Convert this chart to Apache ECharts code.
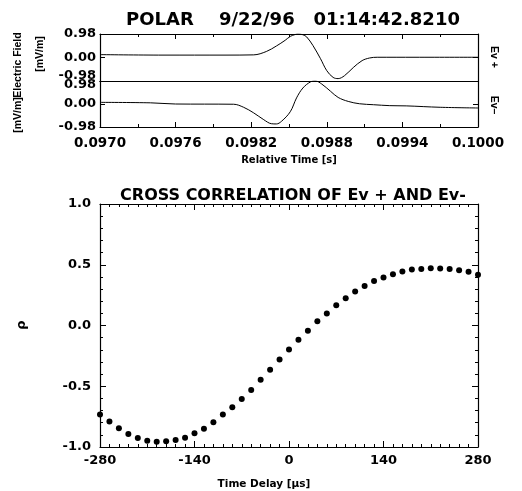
<!DOCTYPE html>
<html>
<head>
<meta charset="utf-8">
<script src="https://cdn.jsdelivr.net/npm/echarts@6/dist/echarts.min.js"></script>
<style>html,body{margin:0;padding:0;background:#fff;}#c{width:522px;height:491px;}</style>
</head>
<body>
<div id="c"></div>
<script>
// ---- data ----
var evPlusTime = [0.0970, 0.0975, 0.0980, 0.09822, 0.09832, 0.09840, 0.09847, 0.09851, 0.09855, 0.09857, 0.09861, 0.09864, 0.09869, 0.09875, 0.09880, 0.09885, 0.09889, 0.09894, 0.09901, 0.09908, 0.09914, 0.09920, 0.0995, 0.1000];
var evPlus     = [0.12, 0.10, 0.10, 0.11, 0.25, 0.48, 0.72, 0.88, 0.96, 0.98, 0.95, 0.86, 0.50, -0.05, -0.55, -0.83, -0.88, -0.76, -0.42, -0.13, -0.02, 0.01, 0.01, 0.01];
var evMinusTime = [0.0970, 0.0974, 0.0976, 0.09806, 0.09814, 0.09822, 0.09830, 0.09836, 0.09840, 0.09844, 0.09851, 0.09856, 0.09861, 0.09867, 0.09871, 0.09876, 0.09883, 0.09889, 0.09897, 0.09906, 0.09917, 0.09930, 0.09943, 0.09970, 0.1000];
var evMinus     = [0.07, 0.05, 0.00, -0.01, -0.14, -0.38, -0.67, -0.84, -0.85, -0.74, -0.33, 0.26, 0.68, 0.94, 0.98, 0.85, 0.54, 0.28, 0.11, 0.01, -0.03, -0.07, -0.08, -0.14, -0.17];
var timeDelay = [-280, -266, -252, -238, -224, -210, -196, -182, -168, -154, -140, -126, -112, -98, -84, -70, -56, -42, -28, -14, 0, 14, 28, 42, 56, 70, 84, 98, 112, 126, 140, 154, 168, 182, 196, 210, 224, 238, 252, 266, 280];
var rho = [-0.733, -0.79, -0.846, -0.893, -0.926, -0.948, -0.956, -0.953, -0.942, -0.923, -0.887, -0.849, -0.796, -0.733, -0.673, -0.604, -0.530, -0.447, -0.365, -0.279, -0.197, -0.117, -0.043, 0.034, 0.098, 0.166, 0.224, 0.279, 0.326, 0.367, 0.395, 0.422, 0.444, 0.461, 0.466, 0.472, 0.469, 0.464, 0.455, 0.442, 0.417];
var timeTicks = ['0.0970', '0.0976', '0.0982', '0.0988', '0.0994', '0.1000'];
var fieldTicks = ['-0.98', '0.00', '0.98'];
var delayTicks = ['-280', '-140', '0', '140', '280'];
var rhoTicks = ['-1.0', '-0.5', '0.0', '0.5', '1.0'];

function pairs(xs, ys) { return xs.map(function (x, i) { return [x, ys[i]]; }); }

var FONT = 'DejaVu Sans';
var BLACK = '#000';
var lineAx = { show: true, onZero: false, lineStyle: { color: BLACK, width: 1.2 } };

function tickIn(len) { return { show: true, inside: true, length: len, lineStyle: { color: BLACK, width: 1 } }; }
function minorIn(n, len) { return { show: true, splitNumber: n, length: len, lineStyle: { color: BLACK, width: 1 } }; }

function nearest(v, list) {
  var best = list[0], bd = Infinity;
  list.forEach(function (s) { var d = Math.abs(parseFloat(s) - v); if (d < bd) { bd = d; best = s; } });
  return best;
}

var chart = echarts.init(document.getElementById('c'), null, { renderer: 'canvas' });

var numLabel = { fontFamily: FONT, fontWeight: 'bold', fontSize: 13, color: BLACK };
var sideFont = 'Liberation Sans';

var option = {
  animation: false,
  backgroundColor: '#fff',
  title: [
    { text: 'POLAR    9/22/96   01:14:42.8210', left: 288, top: 6, textAlign: 'center',
      textStyle: { fontFamily: FONT, fontWeight: 'bold', fontSize: 18, color: BLACK } },
    { text: 'CROSS CORRELATION OF Ev + AND Ev-', left: 288, top: 183, textAlign: 'center',
      textStyle: { fontFamily: FONT, fontWeight: 'bold', fontSize: 16, color: BLACK } }
  ],
  grid: [
    { left: 100, top: 34, width: 378, height: 47 },
    { left: 100, top: 81, width: 378, height: 46 },
    { left: 100, top: 204, width: 378, height: 243 }
  ],
  xAxis: [
    { gridIndex: 0, type: 'value', min: 0.097, max: 0.1, interval: 0.0006, position: 'top',
      axisLine: lineAx, axisTick: tickIn(5), minorTick: minorIn(2, 3), axisLabel: { show: false }, splitLine: { show: false } },
    { gridIndex: 0, type: 'value', min: 0.097, max: 0.1, interval: 0.0006, position: 'bottom',
      axisLine: lineAx, axisTick: { show: false }, axisLabel: { show: false }, splitLine: { show: false } },
    { gridIndex: 1, type: 'value', min: 0.097, max: 0.1, interval: 0.0006, position: 'bottom',
      axisLine: lineAx, axisTick: tickIn(5), minorTick: minorIn(2, 3), splitLine: { show: false },
      axisLabel: Object.assign({ margin: 9, formatter: function (v) { return nearest(v, timeTicks); } }, numLabel, { fontSize: 13.5 }),
      name: 'Relative Time [s]', nameLocation: 'middle', nameGap: 28,
      nameTextStyle: { fontFamily: FONT, fontWeight: 'bold', fontSize: 10, color: BLACK } },
    { gridIndex: 1, type: 'value', min: 0.097, max: 0.1, position: 'top',
      axisLine: lineAx, axisTick: { show: false }, axisLabel: { show: false }, splitLine: { show: false } },
    { gridIndex: 2, type: 'value', min: -280, max: 280, interval: 140, position: 'bottom',
      axisLine: lineAx, axisTick: tickIn(6), minorTick: minorIn(10, 3), splitLine: { show: false },
      axisLabel: Object.assign({ margin: 7, formatter: function (v) { return nearest(v, delayTicks); } }, numLabel) },
    { gridIndex: 2, type: 'value', min: -280, max: 280, interval: 140, position: 'top',
      axisLine: lineAx, axisTick: tickIn(6), minorTick: minorIn(10, 3), splitLine: { show: false }, axisLabel: { show: false } }
  ],
  yAxis: [
    { gridIndex: 0, type: 'value', min: -0.98, max: 0.98, interval: 0.98, position: 'left',
      axisLine: lineAx, axisTick: tickIn(5), splitLine: { show: false },
      axisLabel: Object.assign({ margin: 4, formatter: function (v) {
        var s = nearest(v, fieldTicks); return s === '-0.98' ? '{up|' + s + '}' : s; },
        rich: { up: { fontFamily: FONT, fontWeight: 'bold', fontSize: 13, color: BLACK, padding: [0, 0, 10, 0] } } }, numLabel) },
    { gridIndex: 0, type: 'value', min: -0.98, max: 0.98, interval: 0.98, position: 'right',
      axisLine: lineAx, axisTick: tickIn(5), splitLine: { show: false }, axisLabel: { show: false } },
    { gridIndex: 1, type: 'value', min: -0.98, max: 0.98, interval: 0.98, position: 'left',
      axisLine: lineAx, axisTick: tickIn(5), splitLine: { show: false },
      axisLabel: Object.assign({ margin: 4, formatter: function (v) {
        var s = nearest(v, fieldTicks); return s === '0.98' ? '{dn|' + s + '}' : s; },
        rich: { dn: { fontFamily: FONT, fontWeight: 'bold', fontSize: 13, color: BLACK, padding: [8, 0, 0, 0] } } }, numLabel) },
    { gridIndex: 1, type: 'value', min: -0.98, max: 0.98, interval: 0.98, position: 'right',
      axisLine: lineAx, axisTick: tickIn(5), splitLine: { show: false }, axisLabel: { show: false } },
    { gridIndex: 2, type: 'value', min: -1, max: 1, interval: 0.5, position: 'left',
      axisLine: lineAx, axisTick: tickIn(6), minorTick: minorIn(5, 3), splitLine: { show: false },
      axisLabel: Object.assign({ margin: 9, formatter: function (v) { return nearest(v, rhoTicks); } }, numLabel) },
    { gridIndex: 2, type: 'value', min: -1, max: 1, interval: 0.5, position: 'right',
      axisLine: lineAx, axisTick: tickIn(6), minorTick: minorIn(5, 3), splitLine: { show: false }, axisLabel: { show: false } }
  ],
  series: [
    { name: 'Ev+', type: 'line', xAxisIndex: 0, yAxisIndex: 0, data: pairs(evPlusTime, evPlus),
      smooth: 0.35, showSymbol: false, lineStyle: { color: BLACK, width: 1 } },
    { name: 'Ev-', type: 'line', xAxisIndex: 2, yAxisIndex: 2, data: pairs(evMinusTime, evMinus),
      smooth: 0.35, showSymbol: false, lineStyle: { color: BLACK, width: 1 } },
    { name: 'rho', type: 'scatter', xAxisIndex: 4, yAxisIndex: 4, data: pairs(timeDelay, rho),
      symbol: 'circle', symbolSize: 6, itemStyle: { color: BLACK, opacity: 1 } }
  ],
  graphic: [
    { type: 'text', x: 18, y: 65, rotation: Math.PI / 2,
      style: { text: 'Electric Field', fontFamily: sideFont, fontSize: 10.5, fontWeight: 'bold', fill: BLACK, align: 'center', verticalAlign: 'middle' } },
    { type: 'text', x: 18, y: 115, rotation: Math.PI / 2,
      style: { text: '[mV/m]', fontFamily: sideFont, fontSize: 10.5, fontWeight: 'bold', fill: BLACK, align: 'center', verticalAlign: 'middle' } },
    { type: 'text', x: 40, y: 54, rotation: Math.PI / 2,
      style: { text: '[mV/m]', fontFamily: sideFont, fontSize: 10.5, fontWeight: 'bold', fill: BLACK, align: 'center', verticalAlign: 'middle' } },
    { type: 'text', x: 494, y: 57, rotation: -Math.PI / 2,
      style: { text: 'Ev +', fontFamily: sideFont, fontSize: 10.5, fontWeight: 'bold', fill: BLACK, align: 'center', verticalAlign: 'middle' } },
    { type: 'text', x: 494, y: 105, rotation: -Math.PI / 2,
      style: { text: 'Ev\u2013', fontFamily: sideFont, fontSize: 10.5, fontWeight: 'bold', fill: BLACK, align: 'center', verticalAlign: 'middle' } },
    { type: 'text', x: 22, y: 325, rotation: Math.PI / 2,
      style: { text: '\u03c1', fontFamily: FONT, fontSize: 13, fontWeight: 'bold', fill: BLACK, align: 'center', verticalAlign: 'middle' } },
    { type: 'text', x: 264, y: 484,
      style: { text: 'Time Delay [\u03bcs]', fontFamily: FONT, fontSize: 10.5, fontWeight: 'bold', fill: BLACK, align: 'center', verticalAlign: 'middle' } }
  ]
};
chart.setOption(option);
</script>
</body>
</html>
